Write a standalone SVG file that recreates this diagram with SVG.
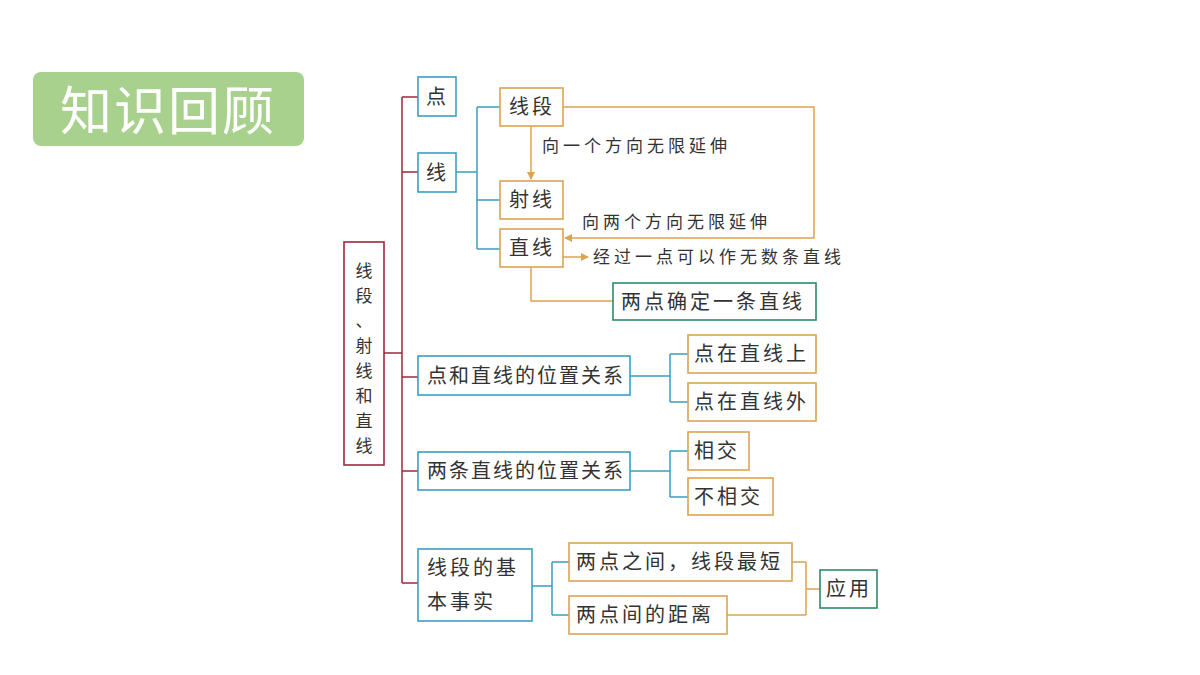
<svg xmlns="http://www.w3.org/2000/svg" width="1200" height="675" viewBox="0 0 1200 675">
<defs>
<style>
text{font-family:"Noto Sans CJK SC","Noto Sans",sans-serif;fill:#333}
.t{font-size:20px;letter-spacing:3px}
.n{font-size:20px;letter-spacing:2px}
.r{font-size:17px;text-anchor:middle}
.a{font-size:17px;letter-spacing:4px}
.bb{fill:#fff;stroke:#3a9fc0;stroke-width:1.6}
.ob{fill:#fff;stroke:#dca352;stroke-width:1.6}
.gb{fill:#fff;stroke:#2e8b6a;stroke-width:1.6}
.rb{fill:#fff;stroke:#a3263f;stroke-width:1.6}
.rl{fill:none;stroke:#a3263f;stroke-width:1.5}
.bl{fill:none;stroke:#3a9fc0;stroke-width:1.5}
.ol{fill:none;stroke:#dca352;stroke-width:1.5}
</style>
<marker id="arr" markerWidth="8" markerHeight="8" refX="7" refY="4" orient="auto" markerUnits="userSpaceOnUse"><path d="M0,0L8,4L0,8z" fill="#dca352"/></marker>
</defs>
<rect width="1200" height="675" fill="#fff"/>
<g id="title"><rect x="33" y="72" width="271" height="74" rx="8" fill="#a9d18e"/><text x="168" y="130" text-anchor="middle" style="font-size:52px;fill:#fff;letter-spacing:2px">知识回顾</text></g>
<g id="connectors">
<path class="rl" d="M384,353H402M402,97V583M402,97H418M402,172H418M402,377H418M402,471H418M402,583H418"/>
<path class="bl" d="M456,172H477M477,107V249M477,107H500M477,200H500M477,249H500"/>
<path class="ol" d="M531,126V179" marker-end="url(#arr)"/>
<path class="ol" d="M563,107H814V238H565" marker-end="url(#arr)"/>
<path class="ol" d="M563,257H588" marker-end="url(#arr)"/>
<path class="ol" d="M531,267V301H613"/>
<path class="bl" d="M630,376H670M670,354V402M670,354H688M670,402H688"/>
<path class="bl" d="M630,471H670M670,451V497M670,451H688M670,497H688"/>
<path class="bl" d="M532,586H552M552,562V615M552,562H569M552,615H569"/>
<path class="ol" d="M792,562H806M727,615H806M806,562V615M806,589H820"/>
</g>
<g id="root"><rect class="rb" x="344" y="242" width="40" height="223"/>
<text class="r" x="364" y="277">线</text><text class="r" x="364" y="302">段</text><text class="r" x="364" y="327">、</text><text class="r" x="364" y="352">射</text><text class="r" x="364" y="377">线</text><text class="r" x="364" y="402">和</text><text class="r" x="364" y="427">直</text><text class="r" x="364" y="452">线</text></g>
<g id="dian"><rect class="bb" x="418" y="77" width="38" height="39"/><text class="t" x="426" y="104">点</text></g>
<g id="xian"><rect class="bb" x="418" y="153" width="38" height="39"/><text class="t" x="426" y="180">线</text></g>
<g id="xianduan"><rect class="ob" x="500" y="88" width="63" height="38"/><text class="t" x="509" y="114">线段</text></g>
<g id="shexian"><rect class="ob" x="500" y="181" width="63" height="38"/><text class="t" x="509" y="207">射线</text></g>
<g id="zhixian"><rect class="ob" x="500" y="229" width="63" height="38"/><text class="t" x="509" y="255">直线</text></g>
<text class="a" x="542" y="152">向一个方向无限延伸</text>
<text class="a" x="582" y="228">向两个方向无限延伸</text>
<text class="a" x="593" y="263">经过一点可以作无数条直线</text>
<g id="liangdian"><rect class="gb" x="613" y="283" width="203" height="37"/><text class="t" x="621" y="309">两点确定一条直线</text></g>
<g id="dianzhi"><rect class="bb" x="418" y="356" width="212" height="39"/><text class="n" x="427" y="383">点和直线的位置关系</text></g>
<g id="shang"><rect class="ob" x="688" y="335" width="128" height="38"/><text class="t" x="694" y="361">点在直线上</text></g>
<g id="wai"><rect class="ob" x="688" y="383" width="128" height="38"/><text class="t" x="694" y="409">点在直线外</text></g>
<g id="liangtiao"><rect class="bb" x="418" y="452" width="212" height="38"/><text class="n" x="427" y="478">两条直线的位置关系</text></g>
<g id="xiangjiao"><rect class="ob" x="688" y="432" width="61" height="38"/><text class="t" x="694" y="458">相交</text></g>
<g id="buxiangjiao"><rect class="ob" x="688" y="478" width="85" height="37"/><text class="t" x="694" y="504">不相交</text></g>
<g id="jiben"><rect class="bb" x="418" y="549" width="114" height="72"/><text class="t" x="427" y="575">线段的基</text><text class="t" x="427" y="609">本事实</text></g>
<g id="zuiduan"><rect class="ob" x="569" y="543" width="223" height="38"/><text class="t" x="576" y="569">两点之间，线段最短</text></g>
<g id="juli"><rect class="ob" x="569" y="596" width="158" height="38"/><text class="t" x="576" y="622">两点间的距离</text></g>
<g id="yingyong"><rect class="gb" x="820" y="570" width="57" height="38"/><text class="t" x="826" y="596">应用</text></g>
</svg>
